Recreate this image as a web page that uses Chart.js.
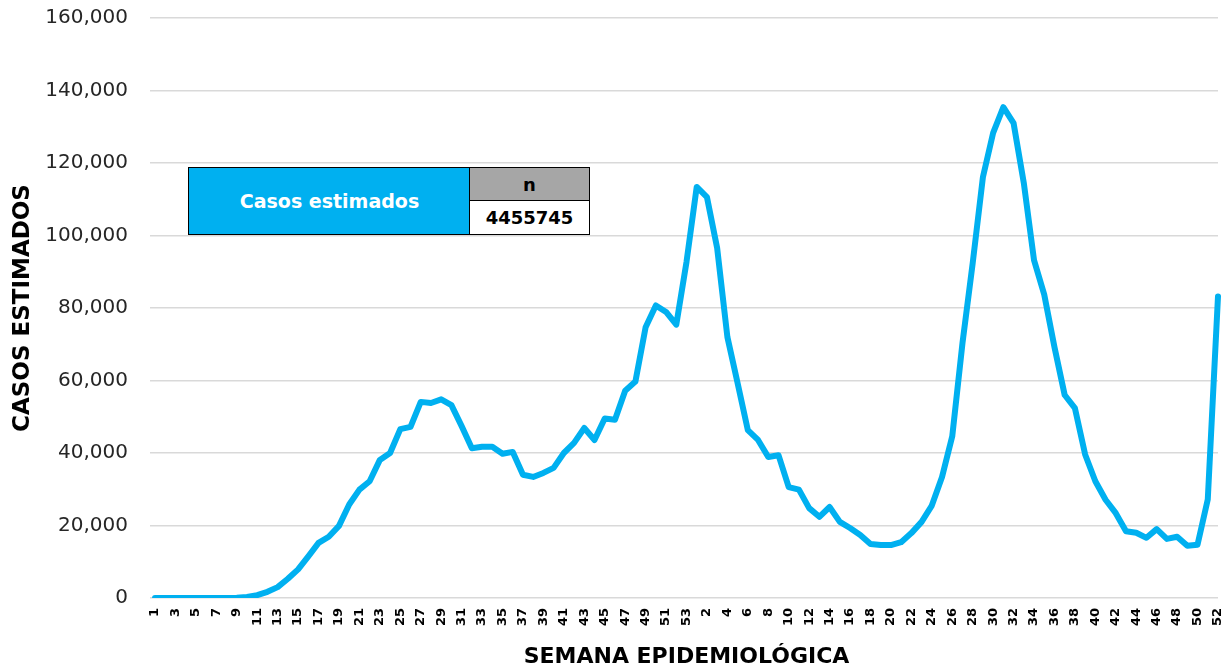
<!DOCTYPE html>
<html>
<head>
<meta charset="utf-8">
<script src="https://cdn.jsdelivr.net/npm/chart.js@4.4.1/dist/chart.umd.min.js"></script>
<style>
  html, body { margin: 0; padding: 0; background: #fff; }
  #wrap { position: relative; width: 1222px; height: 670px; }
  canvas { position: absolute; left: 0; top: 0; }
  .cell {
    position: absolute; box-sizing: border-box; border: 1.5px solid #000;
    display: flex; align-items: center; justify-content: center;
    font-family: "DejaVu Sans", sans-serif; font-weight: bold;
  }
  #c-label { left: 188px; top: 167px; width: 283px; height: 68px; background: #00B0F0; color: #fff; font-size: 19px; }
  #c-n { left: 469px; top: 167px; width: 121px; height: 35px; background: #A6A6A6; color: #000; font-size: 18px; }
  #c-val { left: 469px; top: 200px; width: 121px; height: 35px; background: #fff; color: #000; font-size: 18px; }
</style>
</head>
<body>
<div id="wrap">
  <canvas id="chart" width="1222" height="670"></canvas>
  <div class="cell" id="c-label">Casos estimados</div>
  <div class="cell" id="c-n">n</div>
  <div class="cell" id="c-val">4455745</div>
</div>
<script>
// semanas epidemiológicas: año 1 (53 semanas) y año 2 (52 semanas)
const weeksY1 = [1, 2, 3, 4, 5, 6, 7, 8, 9, 10, 11, 12, 13, 14, 15, 16, 17, 18, 19, 20,
  21, 22, 23, 24, 25, 26, 27, 28, 29, 30, 31, 32, 33, 34, 35, 36, 37, 38, 39, 40,
  41, 42, 43, 44, 45, 46, 47, 48, 49, 50, 51, 52, 53];
const weeksY2 = [1, 2, 3, 4, 5, 6, 7, 8, 9, 10, 11, 12, 13, 14, 15, 16, 17, 18, 19, 20,
  21, 22, 23, 24, 25, 26, 27, 28, 29, 30, 31, 32, 33, 34, 35, 36, 37, 38, 39, 40,
  41, 42, 43, 44, 45, 46, 47, 48, 49, 50, 51, 52];

const casesY1 = [0, 0, 0, 0, 0, 0, 0, 0, 100, 300, 800, 1700, 3000, 5300, 7900, 11500, 15200, 16900, 19900, 25800,
  29900, 32200, 38100, 40000, 46600, 47200, 54100, 53800, 54800, 53200, 47400, 41300, 41700, 41700, 39800, 40300, 34000, 33400, 34500, 35900,
  40000, 42800, 46900, 43600, 49500, 49200, 57200, 59700, 74700, 80700, 78900, 75400, 92700];
const casesY2 = [113400, 110600, 96500, 72000, 59300, 46300, 43600, 38900, 39400, 30600, 29900, 24800, 22400, 25100, 21000, 19300, 17400, 14900, 14600, 14600,
  15400, 17900, 21000, 25500, 33400, 44600, 70300, 92400, 116100, 128300, 135400, 131000, 114500, 93200, 83700, 69200, 56000, 52400, 39600, 32200,
  27100, 23400, 18400, 18000, 16600, 19000, 16300, 16900, 14400, 14700, 27200, 83200];

const yMin = 0;
const yMax = 160000;
const yStep = 20000;

const labels = [...weeksY1, ...weeksY2].map(String);
const cases = [...casesY1, ...casesY2];

const TXT = "#262626";

new Chart(document.getElementById("chart"), {
  type: "line",
  data: {
    labels,
    datasets: [{
      data: cases,
      borderColor: "#00B0F0",
      borderWidth: 6,
      pointRadius: 0,
      tension: 0,
      fill: false,
      borderJoinStyle: "round",
      borderCapStyle: "round",
    }],
  },
  options: {
    responsive: false,
    animation: false,
    layout: { padding: { top: 18, right: 4, left: 0, bottom: 0 } },
    plugins: { legend: { display: false }, tooltip: { enabled: false } },
    scales: {
      x: {
        grid: { display: false, drawTicks: false },
        border: { display: false },
        ticks: {
          autoSkip: false,
          minRotation: 90,
          maxRotation: 90,
          padding: 10,
          color: "#000",
          font: { family: "'DejaVu Sans', sans-serif", size: 13, weight: "bold" },
          callback: (v, i) => (i % 2 === 0 ? labels[i] : ""),
        },
        title: {
          display: true,
          text: "SEMANA EPIDEMIOLÓGICA",
          color: "#000",
          padding: { top: 0, bottom: 0 },
          font: { family: "'DejaVu Sans', sans-serif", size: 22, weight: "bold" },
        },
        afterFit: (s) => {
          s.height = 72;
          s.paddingLeft = 0;
          s.paddingRight = 0;
        },
      },
      y: {
        min: yMin,
        max: yMax,
        grid: { color: "#D9D9D9", lineWidth: 1.5, tickLength: 5 },
        border: { display: false },
        ticks: {
          stepSize: yStep,
          padding: 22,
          color: TXT,
          font: { family: "'DejaVu Sans', sans-serif", size: 20 },
          callback: (v) => v.toLocaleString("en-US"),
        },
        title: {
          display: true,
          text: "CASOS ESTIMADOS",
          color: "#000",
          padding: { top: 9, bottom: 0 },
          font: { family: "'DejaVu Sans', sans-serif", size: 23, weight: "bold" },
        },
        afterFit: (s) => {
          s.width = 155;
          s.paddingTop = 0;
          s.paddingBottom = 0;
        },
      },
    },
  },
});
</script>
</body>
</html>
